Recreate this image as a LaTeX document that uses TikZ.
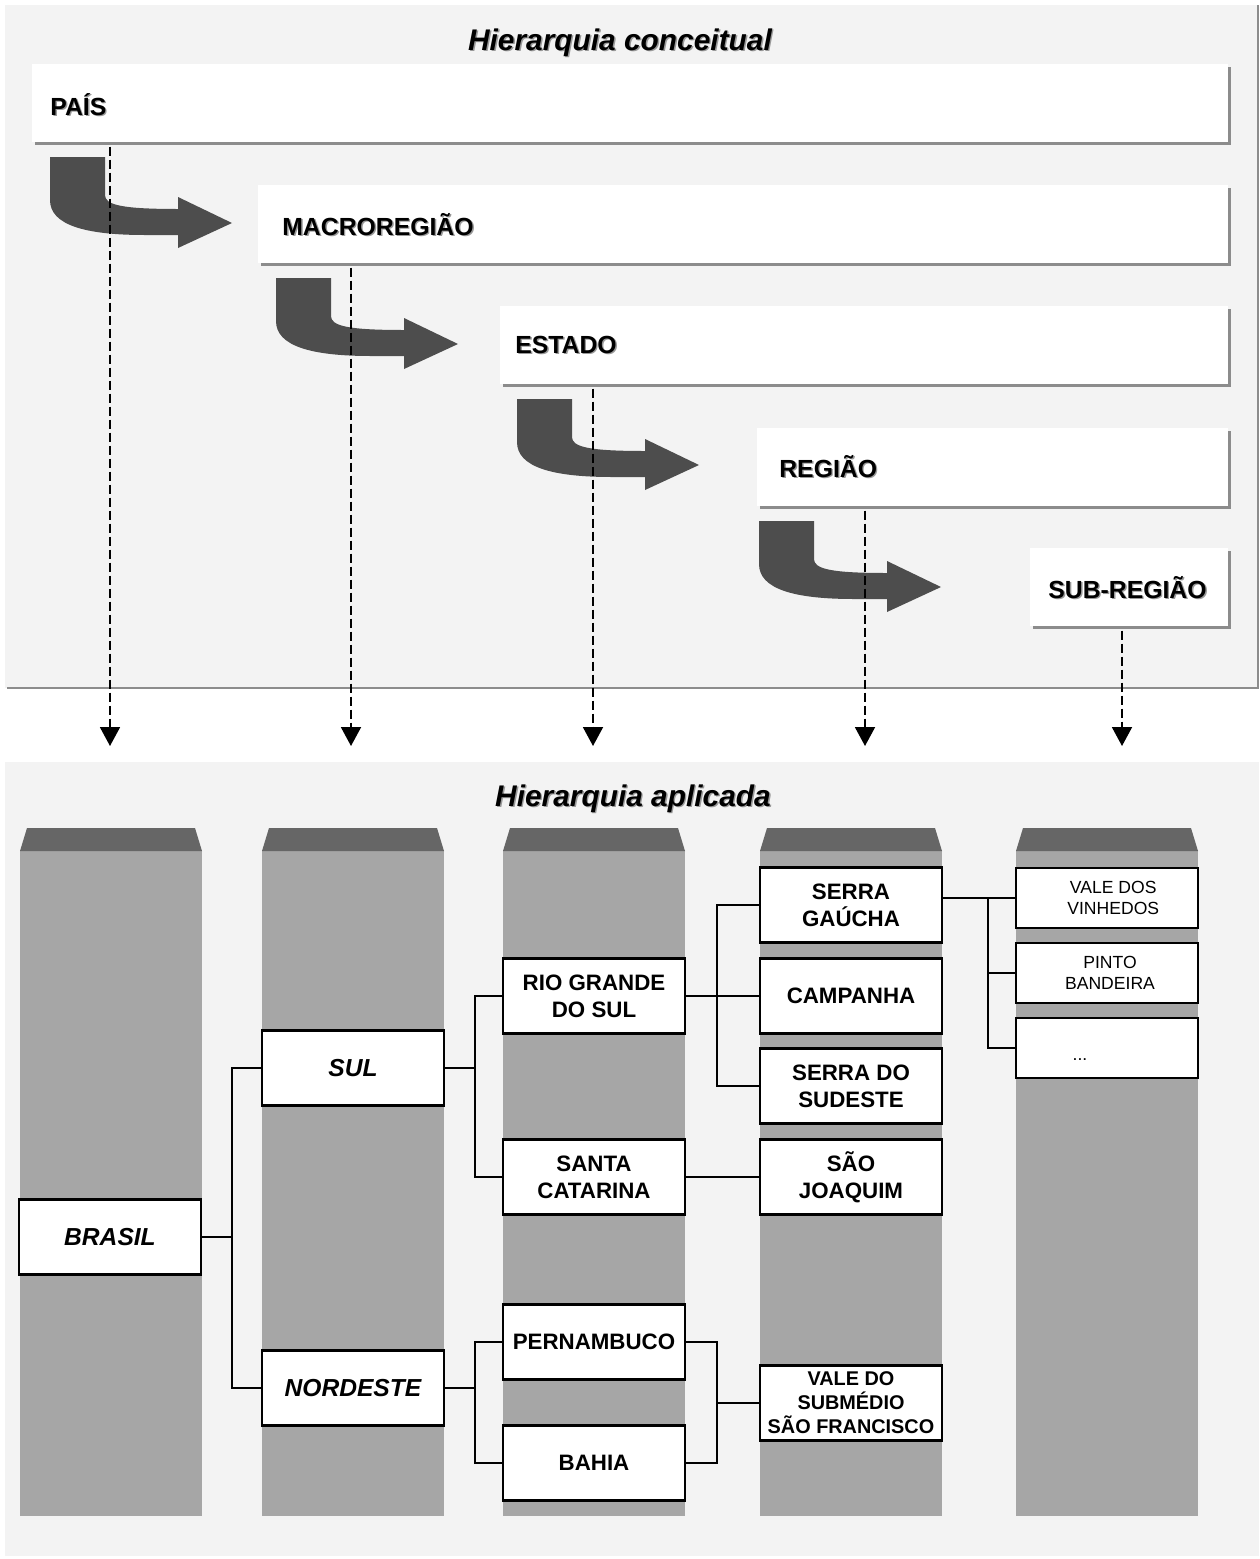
\documentclass[tikz,border=0pt]{standalone}
\usepackage{fontspec}
\setmainfont{Liberation Sans}
\usepackage{xcolor}
\usetikzlibrary{calc,shapes,backgrounds,arrows.meta,shadows,positioning}
\definecolor{panelbg}{HTML}{F3F3F3}
\definecolor{colbody}{HTML}{A6A6A6}
\definecolor{coltop}{HTML}{666666}
\definecolor{bendfill}{HTML}{4D4D4D}
\definecolor{barshadow}{HTML}{8C8C8C}
\newcommand{\shadowed}[1]{\makebox[0pt][l]{\hspace{0.8pt}\raisebox{-0.8pt}{\textcolor{black!40}{#1}}}#1}

\begin{document}
\begin{tikzpicture}[x=0.02cm,y=-0.02cm]

        \tikzstyle{levelbar}=[fill=white, inner sep=0pt, anchor=north west, minimum height=1.56cm, drop shadow={shadow xshift=0.05cm, shadow yshift=-0.05cm, fill=barshadow, opacity=1}]
        \tikzstyle{level}=[anchor=base west, inner sep=0pt, font=\fontsize{14.1}{16}\selectfont\bfseries]
        \tikzstyle{paneltitle}=[anchor=base, inner sep=0pt, font=\fontsize{17}{20}\selectfont\bfseries\itshape]
        \tikzstyle{drop}=[->, >={Triangle[length=0.38cm,width=0.4cm]}, line width=1.1pt, dash pattern=on 0.18cm off 0.08cm]
        \tikzstyle{unit}=[draw, line width=1.3pt, fill=white, minimum width=3.64cm, minimum height=1.5cm, inner sep=1pt, align=center, font=\fontsize{12.7}{15.4}\selectfont\bfseries]
        \tikzstyle{topunit}=[unit, font=\fontsize{14}{16}\selectfont\bfseries\itshape]
        \tikzstyle{small}=[unit, minimum height=1.2cm, font=\fontsize{10}{12.1}\selectfont]
        \tikzstyle{link}=[line width=1.1pt]

        \useasboundingbox (0,0) rectangle (1259,1559);

        % panels
        \fill[panelbg] (5,5) rectangle (1259,688);
        \draw[barshadow, line width=1.1pt] (7,688) -- (1258,688) -- (1258,5);
        \fill[panelbg] (5,762) rectangle (1259,1556);

        \node[paneltitle] (title1) at (620,50) {\shadowed{Hierarquia conceitual}};
        \node[paneltitle] (title2) at (633,806) {\shadowed{Hierarquia aplicada}};

        % conceptual levels
        \node[levelbar, minimum width=23.92cm] (pais) at (32,64) {};
        \node[levelbar, minimum width=19.4cm] (macro) at (258,185) {};
        \node[levelbar, minimum width=14.56cm] (estado) at (500,306) {};
        \node[levelbar, minimum width=9.42cm] (regiao) at (757,428) {};
        \node[levelbar, minimum width=3.96cm] (sub) at (1030,548) {};

        \node[level] (pais-t) at (50,115) {\shadowed{PAÍS}};
        \node[level] (macro-t) at (282,235) {\shadowed{MACROREGIÃO}};
        \node[level] (estado-t) at (515,353) {\shadowed{ESTADO}};
        \node[level] (regiao-t) at (779,477) {\shadowed{REGIÃO}};
        \node[level] (sub-t) at (1048,598) {\shadowed{SUB-REGIÃO}};

        % bent arrows
        \foreach \ax/\ay in {50/157,276/278,517/399,759/521}
          \fill[bendfill, shift={(\ax,\ay)}] (0,0) -- (55,0) -- (55,38)
            .. controls (55,48) and (72,52) .. (128,52) -- (128,40) -- (182,66)
            -- (128,91) -- (128,78) -- (95,78) .. controls (35,78) and (0,68) .. (0,43) -- cycle;

        % dashed arrows
        \foreach \dx/\lvl in {110/pais,351/macro,593/estado,865/regiao,1122/sub} {
          \coordinate (end-\lvl) at (\dx,746);
          \draw[drop] ($(end-\lvl |- \lvl.south)+(0,4)$) -- (end-\lvl);
        }

        % columns
        \foreach \cx in {20,262,503,760,1016} {
          \fill[colbody] (\cx,851) rectangle ++(182,665);
          \fill[coltop] (\cx,851) -- ++(7,-23) -- ++(168,0) -- ++(7,23) -- cycle;
        }

        % applied hierarchy
        \node[topunit] (brasil) at (110,1237) {BRASIL};
        \node[topunit] (sul) at (353,1068) {SUL};
        \node[topunit] (nordeste) at (353,1388) {NORDESTE};

        \node[unit] (rgs) at (594,996) {RIO GRANDE\\DO SUL};
        \node[unit] (sc) at (594,1177) {SANTA\\CATARINA};
        \node[unit] (pe) at (594,1342) {PERNAMBUCO};
        \node[unit] (ba) at (594,1463) {BAHIA};

        \node[unit] (sg) at (851,905) {SERRA\\GAÚCHA};
        \node[unit] (camp) at (851,996) {CAMPANHA};
        \node[unit] (ss) at (851,1086) {SERRA DO\\SUDESTE};
        \node[unit] (sj) at (851,1177) {SÃO\\JOAQUIM};
        \node[unit, font=\fontsize{11.3}{13.6}\selectfont\bfseries] (vssf) at (851,1403) {VALE DO\\SUBMÉDIO\\SÃO FRANCISCO};

        \node[small] (vdv) at (1107,898) {\hspace*{0.25cm}VALE DOS\\\hspace*{0.25cm}VINHEDOS};
        \node[small] (pb) at (1107,973) {\hspace*{0.12cm}PINTO\\\hspace*{0.12cm}BANDEIRA};
        \node[small] (dots) at (1107,1048) {\smash{\raisebox{-0.25cm}{...}}\hspace*{1.08cm}};

        % links
        \draw[link] (brasil.east) -- ++(30,0) coordinate (j1);
        \draw[link] (sul.west) -| (j1) |- (nordeste.west);
        \draw[link] (sul.east) -- ++(30,0) coordinate (j2);
        \draw[link] (rgs.west) -| (j2) |- (sc.west);
        \draw[link] (nordeste.east) -- ++(30,0) coordinate (j3);
        \draw[link] (pe.west) -| (j3) |- (ba.west);

        \draw[link] (rgs.east) -- (camp.west);
        \path (rgs.east) ++(31,0) coordinate (j4);
        \draw[link] (sg.west) -| (j4) |- (ss.west);
        \draw[link] (sc.east) -- (sj.west);

        \path (pe.east) ++(31,0) coordinate (j6);
        \draw[link] (pe.east) -| (j6) |- (ba.east);
        \draw[link] (vssf.west) -- (vssf.west -| j6);

        \path (sg.east) ++(45,0) coordinate (j7);
        \draw[link] (sg.east |- vdv.west) -- (vdv.west);
        \draw[link] (vdv.west -| j7) |- (dots.west);
        \draw[link] (pb.west -| j7) -- (pb.west);
\end{tikzpicture}
\end{document}
